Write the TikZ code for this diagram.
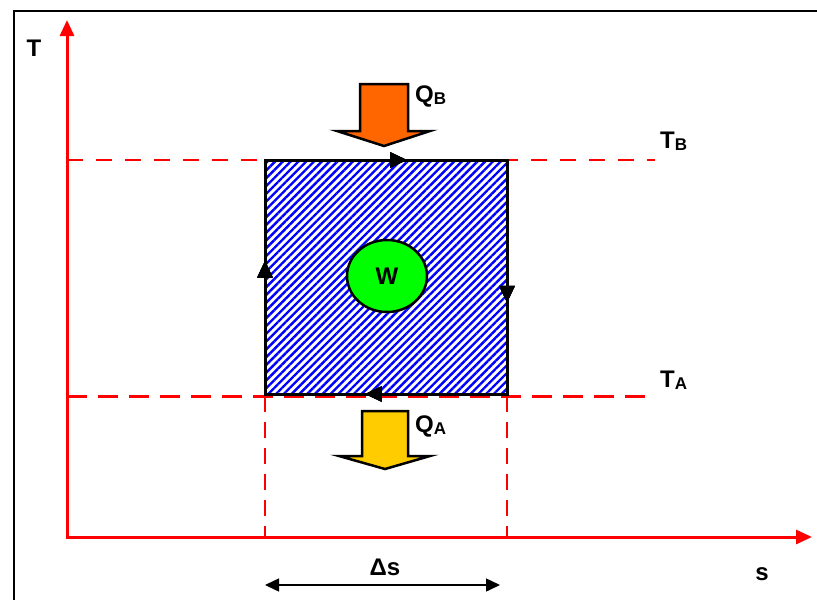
\documentclass[tikz,border=0pt]{standalone}
\usepackage{fontspec}
\setmainfont{Liberation Sans}
\usetikzlibrary{arrows.meta,patterns.meta,shapes.geometric,decorations.markings}
\definecolor{heatorange}{RGB}{255,102,0}
\definecolor{heatgold}{RGB}{255,204,0}
\newcommand{\lowsub}[1]{\raisebox{-2pt}{\fontsize{17}{17}\selectfont #1}}
\tikzset{
  label/.style={font=\bfseries\fontsize{24}{24}\selectfont,inner sep=0pt},
  axis/.style={red,line width=3pt,line join=miter},
  isoline/.style={red,line width=1.3pt,dash pattern=on 16pt off 13pt},
  heatarrow/.style={draw=black,line width=2.5pt,line join=miter},
  cyclemark/.style={decoration={markings,
      mark=at position #1 with {\arrow{Triangle[width=15pt,length=17pt]}}},postaction={decorate}}
}
\begin{document}
\begin{tikzpicture}[x=1pt,y=-1pt]
      \useasboundingbox (0,0) rectangle (817,600);
      % frame
      \draw[line width=2pt] (14,600) -- (14,11) -- (817,11);

      % axes
      \coordinate (y_top) at (67,20);
      \coordinate (origin) at (67,537);
      \coordinate (x_end) at (812,537);
      \draw[axis,{Triangle[width=14pt,length=16pt]}-{Triangle[width=14pt,length=16pt]}] (y_top) -- (origin) -- (x_end);

      % isotherms
      \draw[isoline] (67,160) -- (655,160);
      \draw[red,line width=3pt,dash pattern=on 20pt off 11pt] (67,396) -- (655,396);
      \draw[red,line width=2.5pt,dash pattern=on 16pt off 10pt] (265,396) -- (265,537);
      \draw[red,line width=2.5pt,dash pattern=on 16pt off 10pt] (507,396) -- (507,537);

      % carnot cycle
      \fill[pattern={Lines[angle=45,distance=5.5pt,line width=2.4pt]},pattern color=blue] (265,160) rectangle (507,394);
      \draw[line width=3pt,line join=miter,
        cyclemark=0.14,cyclemark=0.395,cyclemark=0.65,cyclemark=0.895]
        (265,394) -- (265,160) -- (507,160) -- (507,394) -- cycle;
      \path (387,276) node [ellipse,draw,line width=2.5pt,fill=green,minimum width=80pt,minimum height=72pt,label](work){W};

      % heat flows
      \draw[heatarrow,fill=heatorange] (360,84) -- (408,84) -- (408,131) -- (430,131) -- (384,146) -- (337,131) -- (360,131) -- cycle;
      \draw[heatarrow,fill=heatgold] (362,411) -- (408,411) -- (408,456) -- (430,456) -- (385,469) -- (339,456) -- (362,456) -- cycle;

      % labels
      \path (34,48) node [label](lbl_T){T};
      \path (660,148) node [label,anchor=base west](lbl_TB){T\lowsub{B}};
      \path (660,387) node [label,anchor=base west](lbl_TA){T\lowsub{A}};
      \path (415,102) node [label,anchor=base west](lbl_QB){Q\lowsub{B}};
      \path (415,432) node [label,anchor=base west](lbl_QA){Q\lowsub{A}};
      \path (762,574) node [label](lbl_s){s};
      \path (385,575) node [label,anchor=base](lbl_ds){Δs};

      % entropy change
      \coordinate (ds_l) at (265,585);
      \coordinate (ds_r) at (500,585);
      \draw[line width=1.5pt,{Triangle[width=13pt,length=14pt]}-{Triangle[width=13pt,length=14pt]}] (ds_l) -- (ds_r);

    \end{tikzpicture}
\end{document}
